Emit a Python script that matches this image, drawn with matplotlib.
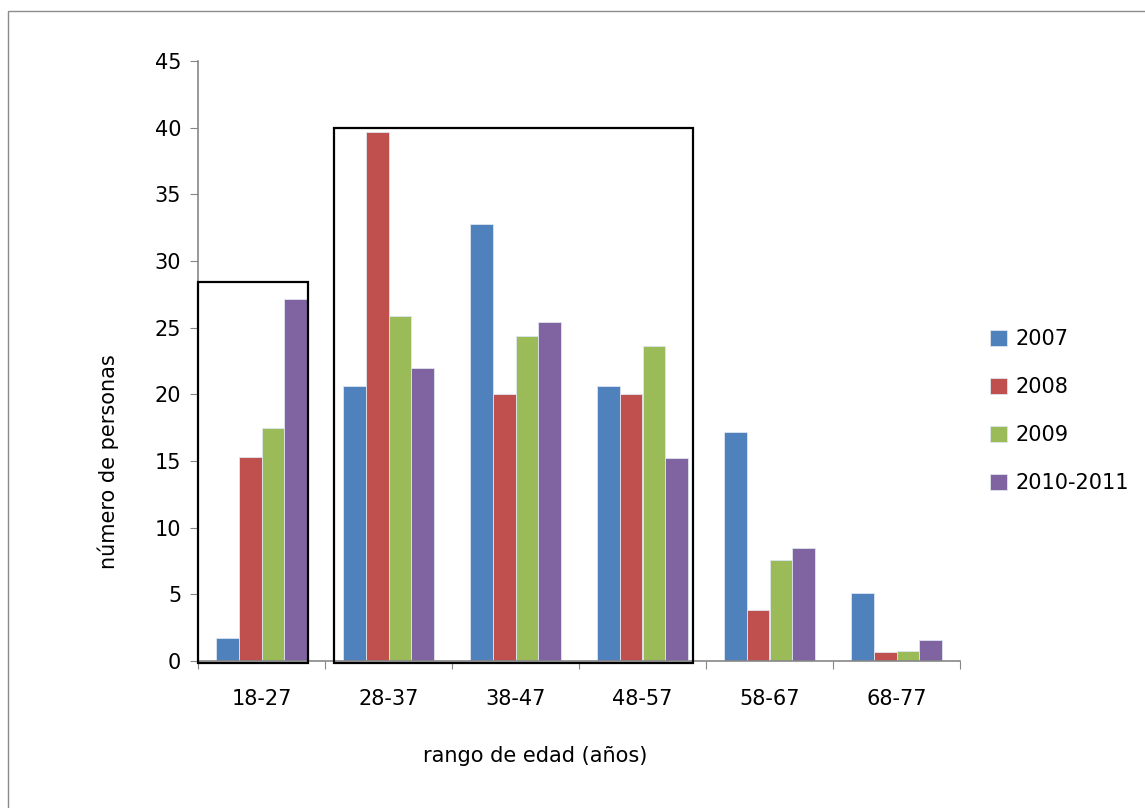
import numpy as np
import matplotlib
matplotlib.use('Agg')
import matplotlib.pyplot as plt
from matplotlib.patches import Rectangle

# data
categories = ['18-27', '28-37', '38-47', '48-57', '58-67', '68-77']
series_names = ['2007', '2008', '2009', '2010-2011']
v2007 = [1.7, 20.6, 32.8, 20.6, 17.2, 5.1]
v2008 = [15.3, 39.7, 20.0, 20.0, 3.8, 0.7]
v2009 = [17.5, 25.9, 24.4, 23.6, 7.6, 0.75]
v2010 = [27.15, 22.0, 25.4, 15.2, 8.5, 1.6]
colors = ['#4F81BD', '#C0504D', '#9BBB59', '#8064A2']

plt.rcParams['font.family'] = 'DejaVu Sans'
fs = 15

fig = plt.figure(figsize=(11.45, 8.08), dpi=100)
ax = fig.add_axes([198/1145, 1-661/808, (960-198)/1145, 600/808])

x = np.arange(len(categories))
w = 0.181
allvals = [v2007, v2008, v2009, v2010]
for i, (vals, name) in enumerate(zip(allvals, series_names)):
    ax.bar(x + (i - 1.5)*w, vals, w, color=colors[i], edgecolor='#dfe6f0',
           linewidth=0.6, label=name, zorder=2)

ax.set_xlim(-0.5, 5.5)
ax.set_ylim(0, 45)
ax.set_yticks(np.arange(0, 46, 5))
ax.tick_params(axis='y', labelsize=fs, length=6, color='#868686', pad=6)
ax.set_xticks(np.arange(-0.5, 6, 1))
ax.set_xticklabels([])
ax.tick_params(axis='x', which='major', length=6, color='#868686')
ax.set_xticks(x, minor=True)
ax.set_xticklabels(categories, minor=True)
ax.tick_params(axis='x', which='minor', length=0, labelsize=fs, pad=20)
for s in ['top', 'right']:
    ax.spines[s].set_visible(False)
for s in ['left', 'bottom']:
    ax.spines[s].set_color('#868686')
    ax.spines[s].set_linewidth(1.2)

ax.set_xlabel('rango de edad (años)', fontsize=fs)
ax.xaxis.set_label_coords((535-198)/762, -85/600)
ax.set_ylabel('número de personas', fontsize=fs)
ax.yaxis.set_label_coords(-(198-119)/762, (661-462)/600)

# highlight boxes
ax.add_patch(Rectangle((-0.5, -0.15), 0.866, 28.55, fill=False, edgecolor='black',
                       linewidth=1.6, clip_on=False, zorder=3))
ax.add_patch(Rectangle((0.571, -0.15), 2.827, 40.13, fill=False, edgecolor='black',
                       linewidth=1.6, clip_on=False, zorder=3))

leg = fig.legend(loc='center left', bbox_to_anchor=(982/1145, 1-411/808), frameon=False,
                 fontsize=fs, handlelength=0.8, handleheight=0.8, handletextpad=0.4,
                 labelspacing=1.35, borderaxespad=0)

# chart border
fig.patches.append(Rectangle((8/1145, -0.1), 2, 1-11/808+0.1, transform=fig.transFigure,
                             fill=False, edgecolor='#8c8c8c', linewidth=1.0))

fig.savefig('out.png', dpi=100)
